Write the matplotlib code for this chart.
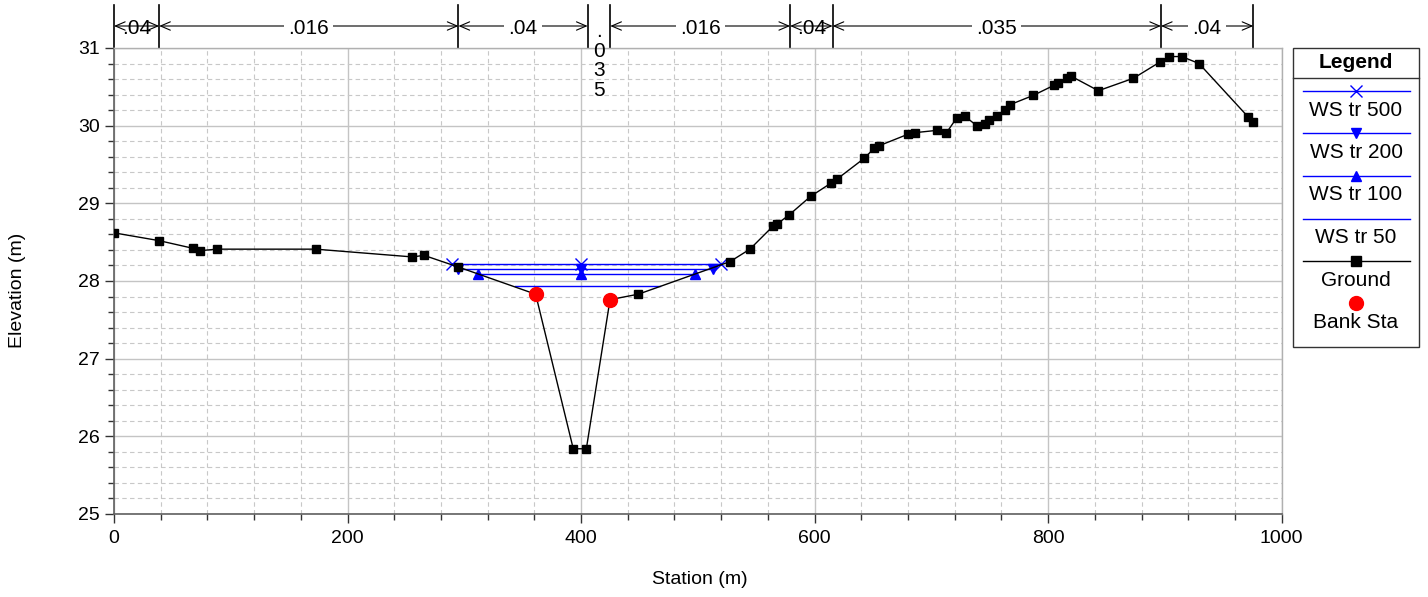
import numpy as np
import matplotlib.pyplot as plt
from matplotlib.ticker import MultipleLocator
from matplotlib.patches import Rectangle

plt.rcParams['font.family'] = ['Liberation Sans', 'DejaVu Sans']

# --- datos ---
# terreno (Ground)
sta = [0, 38.5, 67.9, 73.6, 88, 172.7, 255.5, 265.5, 294.9, 361.1, 393.3, 404.5,
       424.8, 449, 527.6, 544.6, 564.6, 567.5, 578.1, 596.6, 614, 619, 642.5,
       651, 655, 680, 686, 705, 712.5, 721.7, 728.8, 738.8, 746, 749.6, 756,
       763, 767.3, 787.3, 805, 808.7, 816, 819.3, 843, 873, 895.8, 903.7,
       914.4, 929.2, 971.4, 975.7]
elev = [28.62, 28.52, 28.42, 28.39, 28.41, 28.41, 28.31, 28.33, 28.18, 27.83,
        25.84, 25.84, 27.76, 27.83, 28.25, 28.41, 28.71, 28.73, 28.85, 29.09,
        29.26, 29.31, 29.58, 29.71, 29.74, 29.89, 29.91, 29.94, 29.90, 30.10,
        30.12, 30.00, 30.02, 30.07, 30.12, 30.20, 30.27, 30.39, 30.52, 30.55,
        30.61, 30.64, 30.45, 30.61, 30.82, 30.89, 30.89, 30.80, 30.11, 30.05]

# estaciones de banco
bank_sta = [361.1, 424.8]
bank_elev = [27.83, 27.76]

# niveles de agua
ws500_sta = [289.2, 400, 519.8]
ws500_el = [28.215, 28.215, 28.215]
ws200_sta = [294.6, 400, 512.7]
ws200_el = [28.16, 28.16, 28.16]
ws100_sta = [312, 400, 497.6]
ws100_el = [28.09, 28.09, 28.09]
ws50_sta = [343.4, 467.6]
ws50_el = [27.94, 27.94]

# valores de Manning
n_sta = [0, 38.7, 295, 405.6, 425, 579, 615.4, 896.6, 975.7]
n_val = ['.04', '.016', '.04', '.035', '.016', '.04', '.035', '.04']

W, H = 1428, 597
FS = 14      # ticks y ejes
FL = 15      # leyenda y n
fig = plt.figure(figsize=(W / 100, H / 100), dpi=100)
ax = fig.add_axes([114 / W, (H - 514) / H, 1167.7 / W, 466 / H])

azul = '#0000ff'
ax.plot(ws500_sta, ws500_el, color=azul, lw=1, marker='x', ms=8, mew=1, zorder=3)
ax.plot(ws200_sta, ws200_el, color=azul, lw=1, marker='v', ms=7, zorder=3)
ax.plot(ws100_sta, ws100_el, color=azul, lw=1, marker='^', ms=7, zorder=3)
ax.plot(ws50_sta, ws50_el, color=azul, lw=1, zorder=3)
ax.plot(sta, elev, color='black', lw=1, marker='s', ms=6, zorder=4)
ax.plot(bank_sta, bank_elev, ls='none', marker='o', ms=10, color='#ff0000',
        mec='#ff0000', zorder=5)

ax.set_xlim(0, 1000)
ax.set_ylim(25, 31)
ax.xaxis.set_major_locator(MultipleLocator(200))
ax.xaxis.set_minor_locator(MultipleLocator(40))
ax.yaxis.set_major_locator(MultipleLocator(1))
ax.yaxis.set_minor_locator(MultipleLocator(0.2))
ax.grid(which='major', color='#c4c4c4', lw=1, ls='-')
ax.grid(which='minor', color='#c8c8c8', lw=0.8, ls=(0, (4, 3)))
ax.set_axisbelow(True)
ax.tick_params(which='major', length=6.5, width=1, color='#333333',
               labelsize=FS, pad=3.5)
ax.tick_params(axis='x', which='major', pad=5)
ax.tick_params(which='minor', length=4.3, width=1, color='#333333')
for s in ['left', 'bottom']:
    ax.spines[s].set_color('#606060')
    ax.spines[s].set_linewidth(1.2)
for s in ['top', 'right']:
    ax.spines[s].set_color('#b0b0b0')
    ax.spines[s].set_linewidth(1)

fig.text(18 / W, 1 - 290 / H, 'Elevation (m)', rotation=90, ha='center',
         va='center', fontsize=FS)
fig.text(700 / W, 1 - 580 / H, 'Station (m)', ha='center', va='center',
         fontsize=FS)

# --- cotas de Manning arriba ---
tr = ax.get_xaxis_transform()
px_m = 1167.7 / 1000
y_bar = 1 + 43 / 466
y_arr = 1 + 22 / 466
for s in n_sta:
    ax.plot([s, s], [1, y_bar], color='black', lw=1.2, transform=tr, clip_on=False)
for a, b, v in zip(n_sta[:-1], n_sta[1:], n_val):
    ancho = (b - a) * px_m
    xm = (a + b) / 2
    if ancho < 25:
        ax.text(xm, 1 + 26 / 466, '.\n0\n3\n5', transform=tr, ha='center',
                va='top', fontsize=FL, linespacing=1.04, clip_on=False)
        continue
    ax.annotate('', xy=(a, y_arr), xytext=(b, y_arr), xycoords=tr,
                textcoords=tr,
                arrowprops=dict(arrowstyle='<->,head_length=0.7,head_width=0.3',
                                lw=0.8, color='black', shrinkA=0, shrinkB=0),
                annotation_clip=False)
    kw = {}
    if ancho > 60:
        kw['bbox'] = dict(fc='white', ec='none', pad=3)
    ax.text(xm, y_arr - 3 / 466, v, transform=tr, ha='center', va='center',
            fontsize=FL, clip_on=False, **kw)

# --- leyenda dibujada a mano ---
lg = fig.add_axes([0, 0, 1, 1])
lg.set_xlim(0, W)
lg.set_ylim(H, 0)
lg.axis('off')
lg.add_patch(Rectangle((1292.7, 48.3), 126.6, 298.4, fc='white', ec='#333333', lw=1))
lg.plot([1292.7, 1419.3], [77.7, 77.7], color='#333333', lw=1)
cx = 1356
lg.text(cx, 62, 'Legend', ha='center', va='center', fontsize=FL, fontweight='bold')
ent = [('WS tr 500', azul, 'x', 90.7, 110),
       ('WS tr 200', azul, 'v', 133.3, 152.7),
       ('WS tr 100', azul, '^', 176, 195),
       ('WS tr 50', azul, None, 219, 237.7),
       ('Ground', 'black', 's', 261, 280)]
for nom, c, m, yl, yt in ent:
    lg.plot([1302.7, 1410], [yl, yl], color=c, lw=1)
    if m:
        lg.plot([cx], [yl], ls='none', marker=m, color=c, ms=7 if m != 'x' else 8)
    lg.text(cx, yt, nom, ha='center', va='center', fontsize=FL)
lg.plot([cx], [303.3], ls='none', marker='o', ms=10, color='#ff0000')
lg.text(cx, 322.7, 'Bank Sta', ha='center', va='center', fontsize=FL)

fig.savefig('out.png', dpi=100)
